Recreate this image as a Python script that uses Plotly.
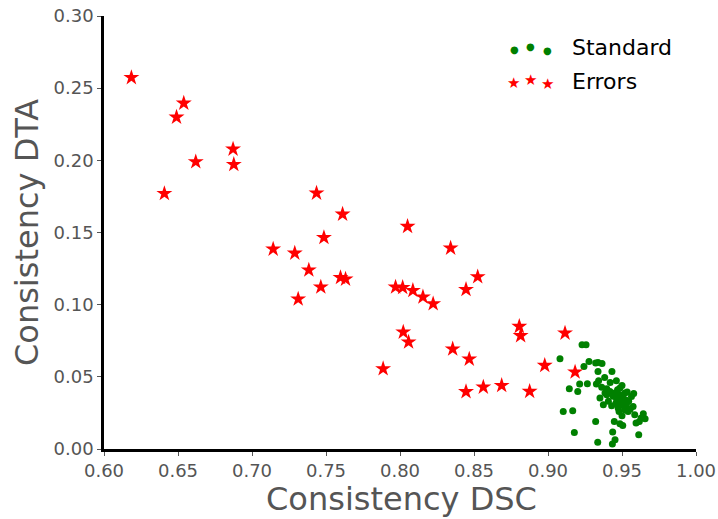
import plotly.graph_objects as go

# ---- data ----
standard_dsc = [0.9230, 0.9257, 0.9081, 0.9277, 0.9243, 0.9322, 0.9338, 0.9365, 0.9432, 0.9338,
                0.9383, 0.9342, 0.9327, 0.9462, 0.9214, 0.9266, 0.9144, 0.9201, 0.9363, 0.9397,
                0.9385, 0.9419, 0.9486, 0.9520, 0.9579, 0.9397, 0.9453, 0.9486, 0.9507, 0.9462,
                0.9496, 0.9530, 0.9474, 0.9519, 0.9564, 0.9575, 0.9541, 0.9586, 0.9374, 0.9408,
                0.9351, 0.9644, 0.9629, 0.9595, 0.9656, 0.9617, 0.9103, 0.9167, 0.9322, 0.9448,
                0.9486, 0.9505, 0.9178, 0.9437, 0.9613, 0.9336, 0.9453, 0.9435, 0.9470, 0.9500,
                0.9490, 0.9510, 0.9460, 0.9525, 0.9480, 0.9545, 0.9440, 0.9555, 0.9500, 0.9420,
                0.9430, 0.9535]
standard_dta = [0.0722, 0.0722, 0.0625, 0.0607, 0.0572, 0.0596, 0.0600, 0.0593, 0.0537, 0.0537,
                0.0496, 0.0473, 0.0450, 0.0473, 0.0450, 0.0452, 0.0418, 0.0399, 0.0427, 0.0418,
                0.0388, 0.0399, 0.0422, 0.0388, 0.0385, 0.0376, 0.0388, 0.0376, 0.0353, 0.0353,
                0.0319, 0.0307, 0.0284, 0.0272, 0.0364, 0.0295, 0.0260, 0.0238, 0.0307, 0.0330,
                0.0353, 0.0244, 0.0215, 0.0180, 0.0210, 0.0191, 0.0260, 0.0265, 0.0191, 0.0191,
                0.0175, 0.0163, 0.0115, 0.0118, 0.0099, 0.0046, 0.0064, 0.0035, 0.0410, 0.0440,
                0.0340, 0.0300, 0.0320, 0.0340, 0.0260, 0.0330, 0.0365, 0.0275, 0.0230, 0.0460,
                0.0300, 0.0395]

errors_dsc = [0.6185, 0.6539, 0.6490, 0.6872, 0.6877, 0.6620, 0.6408, 0.7436, 0.7612, 0.8051,
              0.7486, 0.7143, 0.7289, 0.8342, 0.7384, 0.8525, 0.7598, 0.7632, 0.7465, 0.8446,
              0.7312, 0.7970, 0.8018, 0.8087, 0.8155, 0.8224, 0.8022, 0.8058, 0.8356, 0.8468,
              0.7886, 0.8806, 0.8815, 0.9115, 0.8978, 0.9183, 0.8446, 0.8563, 0.8687, 0.8876]
errors_dta = [0.2573, 0.2396, 0.2299, 0.2078, 0.1971, 0.1990, 0.1770, 0.1773, 0.1627, 0.1542,
              0.1465, 0.1385, 0.1357, 0.1392, 0.1240, 0.1193, 0.1188, 0.1177, 0.1122, 0.1105,
              0.1039, 0.1122, 0.1119, 0.1098, 0.1053, 0.1006, 0.0810, 0.0741, 0.0693, 0.0623,
              0.0556, 0.0849, 0.0785, 0.0803, 0.0579, 0.0533, 0.0397, 0.0429, 0.0440, 0.0399]

x_ticks = [0.60, 0.65, 0.70, 0.75, 0.80, 0.85, 0.90, 0.95, 1.00]
y_ticks = [0.00, 0.05, 0.10, 0.15, 0.20, 0.25, 0.30]
series_names = ["Standard", "Errors"]
x_title = "Consistency DSC"
y_title = "Consistency DTA"

FONT = "DejaVu Sans"
GRAY = "#555555"
W, H = 718, 519
ML, MR, MT, MB = 104, 22, 16, 70

fig = go.Figure()
fig.add_trace(go.Scatter(x=standard_dsc, y=standard_dta, mode="markers", name=series_names[0],
                         marker=dict(color="green", size=7, symbol="circle", line=dict(width=0)),
                         showlegend=False, cliponaxis=False))
fig.add_trace(go.Scatter(x=errors_dsc, y=errors_dta, mode="markers", name=series_names[1],
                         marker=dict(color="red", size=12, symbol="star", line=dict(width=0)),
                         showlegend=False, cliponaxis=False))

axis_common = dict(showgrid=False, zeroline=False, showline=True, linecolor="black", linewidth=2.5,
                   ticks="outside", ticklen=4, tickwidth=1, tickcolor=GRAY, automargin=False,
                   tickfont=dict(family=FONT, size=18, color=GRAY), mirror=False)

fig.update_layout(
    width=W, height=H,
    margin=dict(l=ML, r=MR, t=MT, b=MB, autoexpand=False),
    paper_bgcolor="white", plot_bgcolor="white",
    xaxis=dict(range=[0.6, 1.0], tickvals=x_ticks, ticktext=[f"{v:.2f}" for v in x_ticks], **axis_common),
    yaxis=dict(range=[0, 0.3], tickvals=y_ticks, ticktext=[f"{v:.2f}" for v in y_ticks], **axis_common),
)

pw, ph = W - ML - MR, H - MT - MB


def px_to_paper(px, py):
    return (px - ML) / pw, (H - MB - py) / ph


# axis titles
xp, yp = px_to_paper(401, 499)
fig.add_annotation(x=xp, y=yp, xref="paper", yref="paper", text=x_title, showarrow=False,
                   font=dict(family=FONT, size=32, color=GRAY), xanchor="center", yanchor="middle")
xp, yp = px_to_paper(27, 233)
fig.add_annotation(x=xp, y=yp, xref="paper", yref="paper", text=y_title, showarrow=False, textangle=-90,
                   font=dict(family=FONT, size=32, color=GRAY), xanchor="center", yanchor="middle")

# legend drawn as annotations (three scatter points per entry, matplotlib style)
for (gx, gy) in [(514.3, 49), (530.7, 46.7), (547.3, 50)]:
    xp, yp = px_to_paper(gx, gy)
    fig.add_annotation(x=xp, y=yp, xref="paper", yref="paper", text="●", showarrow=False,
                       font=dict(family=FONT, size=10, color="green"), xanchor="center", yanchor="middle")
for (sx, sy) in [(513.3, 83.3), (530.7, 80), (547.3, 84.3)]:
    xp, yp = px_to_paper(sx, sy)
    fig.add_annotation(x=xp, y=yp, xref="paper", yref="paper", text="★", showarrow=False,
                       font=dict(family=FONT, size=15, color="red"), xanchor="center", yanchor="middle")
for name, ty in zip(series_names, [47, 82]):
    xp, yp = px_to_paper(570, ty)
    fig.add_annotation(x=xp, y=yp, xref="paper", yref="paper", text=name, showarrow=False,
                       font=dict(family=FONT, size=22, color="black"), xanchor="left", yanchor="middle")

fig.write_html("out.html", config={"displayModeBar": False},
               post_script="document.body.style.margin='0';document.body.style.padding='0';")
